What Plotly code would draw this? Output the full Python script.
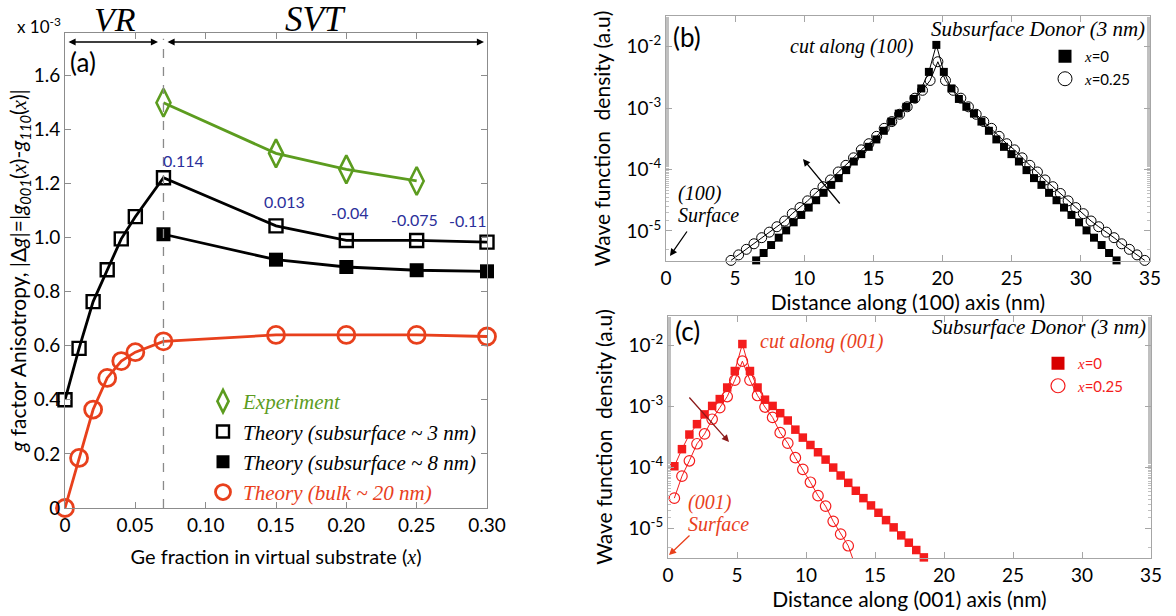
import plotly.graph_objects as go

# ---------------- Panel (a) data ----------------
ge_sub3 = [0, 0.01, 0.02, 0.03, 0.04, 0.05, 0.07, 0.15, 0.20, 0.25, 0.30]
aniso_sub3 = [0.40, 0.59, 0.763, 0.881, 0.995, 1.077, 1.221, 1.043, 0.989, 0.989, 0.983]
ge_sub8 = [0.07, 0.15, 0.20, 0.25, 0.30]
aniso_sub8 = [1.012, 0.918, 0.891, 0.879, 0.875]
ge_bulk = [0, 0.01, 0.02, 0.03, 0.04, 0.05, 0.07, 0.15, 0.20, 0.25, 0.30]
aniso_bulk = [0.0, 0.185, 0.364, 0.481, 0.543, 0.576, 0.616, 0.640, 0.640, 0.640, 0.634]
ge_exp = [0.07, 0.15, 0.20, 0.25]
aniso_exp = [1.498, 1.311, 1.252, 1.209]
strain_labels = ["0.114", "0.013", "-0.04", "-0.075", "-0.11"]
strain_label_at = [0.07, 0.15, 0.20, 0.25, 0.30]
a_xticks = [0, 0.05, 0.10, 0.15, 0.20, 0.25, 0.30]
a_xticktext = ["0", "0.05", "0.10", "0.15", "0.20", "0.25", "0.30"]
a_yticks = [0, 0.2, 0.4, 0.6, 0.8, 1.0, 1.2, 1.4, 1.6]
a_yticktext = ["0", "0.2", "0.4", "0.6", "0.8", "1.0", "1.2", "1.4", "1.6"]

# ---------------- Panel (b) data: cut along (100) ----------------
b_x0_pos = [6.52, 7.06, 7.60, 8.15, 8.69, 9.23, 9.78, 10.32, 10.86, 11.40, 11.95, 12.49,
            13.03, 13.58, 14.12, 14.66, 15.21, 15.75, 16.29, 16.83, 17.38, 17.92, 18.46,
            19.01, 19.55, 20.09, 20.64, 21.18, 21.72, 22.27, 22.81, 23.35, 23.89, 24.44,
            24.98, 25.52, 26.07, 26.61, 27.15, 27.70, 28.24, 28.78, 29.32, 29.87, 30.41,
            30.95, 31.50, 32.04, 32.58]
b_x0_dens = [3.31e-6, 4.37e-6, 5.89e-6, 7.76e-6, 1.02e-5, 1.38e-5, 1.82e-5, 2.40e-5,
             3.16e-5, 4.17e-5, 5.62e-5, 7.24e-5, 9.77e-5, 1.35e-4, 1.78e-4, 2.34e-4,
             3.09e-4, 4.27e-4, 6.03e-4, 8.13e-4, 1.05e-3, 1.41e-3, 2.09e-3, 3.89e-3,
             1.07e-2,
             3.89e-3, 2.09e-3, 1.41e-3, 1.05e-3, 8.13e-4, 6.03e-4, 4.27e-4, 3.09e-4,
             2.34e-4, 1.78e-4, 1.35e-4, 9.77e-5, 7.24e-5, 5.62e-5, 4.17e-5, 3.16e-5,
             2.40e-5, 1.82e-5, 1.38e-5, 1.02e-5, 7.76e-6, 5.89e-6, 4.37e-6, 3.31e-6]
b_x25_pos = [4.70, 5.25, 5.81, 6.36, 6.92, 7.47, 8.02, 8.58, 9.13, 9.69, 10.24, 10.79,
             11.35, 11.90, 12.46, 13.01, 13.56, 14.12, 14.67, 15.23, 15.78, 16.33, 16.89,
             17.44, 18.00, 18.55, 19.10, 19.66, 20.21, 20.77, 21.32, 21.87, 22.43, 22.98,
             23.54, 24.09, 24.64, 25.20, 25.75, 26.31, 26.86, 27.41, 27.97, 28.52, 29.08,
             29.63, 30.18, 30.74, 31.29, 31.85, 32.40, 32.95, 33.51, 34.06, 34.62]
b_x25_dens = [3.31e-6, 4.07e-6, 5.01e-6, 6.17e-6, 7.76e-6, 9.55e-6, 1.17e-5, 1.45e-5,
              1.91e-5, 2.40e-5, 3.09e-5, 4.07e-5, 5.25e-5, 6.76e-5, 9.12e-5, 1.17e-4,
              1.55e-4, 2.09e-4, 2.63e-4, 3.47e-4, 4.68e-4, 6.03e-4, 7.94e-4, 1.05e-3,
              1.45e-3, 1.95e-3, 2.82e-3,
              5.69e-3,
              2.82e-3, 1.95e-3, 1.45e-3, 1.05e-3, 7.94e-4, 6.03e-4, 4.68e-4, 3.47e-4,
              2.63e-4, 2.09e-4, 1.55e-4, 1.17e-4, 9.12e-5, 6.76e-5, 5.25e-5, 4.07e-5,
              3.09e-5, 2.40e-5, 1.91e-5, 1.45e-5, 1.17e-5, 9.55e-6, 7.76e-6, 6.17e-6,
              5.01e-6, 4.07e-6, 3.31e-6]

# ---------------- Panel (c) data: cut along (001) ----------------
c_x0_pos = [0.46, 1.01, 1.55, 2.10, 2.65, 3.20, 3.75, 4.29, 4.84, 5.39, 5.94, 6.49,
            7.03, 7.58, 8.13, 8.68, 9.23, 9.77, 10.32, 10.87, 11.42, 11.97, 12.51, 13.06,
            13.61, 14.16, 14.71, 15.25, 15.80, 16.35, 16.90, 17.45, 17.99, 18.54]
c_x0_dens = [1.05e-4, 2.00e-4, 3.47e-4, 5.13e-4, 7.41e-4, 1.02e-3, 1.32e-3, 2.04e-3,
             3.80e-3, 1.05e-2, 3.80e-3, 2.04e-3, 1.29e-3, 1.02e-3, 7.76e-4, 5.89e-4,
             4.17e-4, 3.09e-4, 2.34e-4, 1.78e-4, 1.35e-4, 1.00e-4, 7.41e-5, 5.62e-5,
             4.17e-5, 3.16e-5, 2.40e-5, 1.82e-5, 1.38e-5, 1.05e-5, 7.76e-6, 5.89e-6,
             4.47e-6, 3.39e-6]
c_x25_pos = [0.46, 1.01, 1.55, 2.10, 2.65, 3.20, 3.75, 4.29, 4.84, 5.39, 5.94, 6.49,
             7.03, 7.58, 8.13, 8.68, 9.23, 9.77, 10.32, 10.87, 11.42, 11.97, 12.51, 13.06,
             13.61]
c_x25_dens = [3.16e-5, 7.24e-5, 1.29e-4, 2.45e-4, 3.55e-4, 6.17e-4, 9.55e-4, 1.45e-3,
              2.69e-3, 5.50e-3, 2.69e-3, 1.51e-3, 9.77e-4, 6.61e-4, 3.72e-4, 2.51e-4,
              1.45e-4, 9.33e-5, 5.75e-5, 3.47e-5, 2.34e-5, 1.32e-5, 8.13e-6, 5.25e-6,
              2.34e-6]
bc_xticks = [0, 5, 10, 15, 20, 25, 30, 35]
bc_yticks = [1e-5, 1e-4, 1e-3, 1e-2]
bc_yticktext = ["10<sup>-5</sup>", "10<sup>-4</sup>", "10<sup>-3</sup>", "10<sup>-2</sup>"]

# ---------------- styling ----------------
W, H = 1176, 616
GREEN = "#5c9c1f"
RED_A = "#e8401c"
BLUE = "#2b2f9a"
RED_C = "#f41c1c"
DARKRED = "#8b1a1a"
SANS = "Lato"
SERIF = "Liberation Serif"
FRAME = "#8c8c8c"
FRAME_BC = "#a6a6a6"


def px(x):
    return x / W


def py(y):
    return 1 - y / H


fig = go.Figure()

# Panel (a) curves
fig.add_trace(go.Scatter(x=ge_exp, y=aniso_exp, mode="lines+markers", xaxis="x", yaxis="y",
                         line=dict(color=GREEN, width=2.8),
                         marker=dict(symbol="diamond-tall-open", size=20, color=GREEN,
                                     line=dict(width=2.6, color=GREEN)),
                         showlegend=False, cliponaxis=False))
fig.add_trace(go.Scatter(x=ge_sub3, y=aniso_sub3, mode="lines+markers", xaxis="x", yaxis="y",
                         line=dict(color="black", width=2.8),
                         marker=dict(symbol="square-open", size=13, color="black",
                                     line=dict(width=2.4, color="black")),
                         showlegend=False, cliponaxis=False))
fig.add_trace(go.Scatter(x=ge_sub8, y=aniso_sub8, mode="lines+markers", xaxis="x", yaxis="y",
                         line=dict(color="black", width=2.8),
                         marker=dict(symbol="square", size=14, color="black"),
                         showlegend=False, cliponaxis=False))
fig.add_trace(go.Scatter(x=ge_bulk, y=aniso_bulk, mode="lines+markers", xaxis="x", yaxis="y",
                         line=dict(color=RED_A, width=2.8),
                         marker=dict(symbol="circle-open", size=17, color=RED_A,
                                     line=dict(width=2.8, color=RED_A)),
                         showlegend=False, cliponaxis=False))

# Panel (a) legend (markers only)
leg_a = [
    (f"<span style='color:{GREEN}'><i>Experiment</i></span>",
     dict(symbol="diamond-tall-open", size=16, color=GREEN, line=dict(width=2.6, color=GREEN))),
    ("<i>Theory (subsurface ~ 3 nm)</i>",
     dict(symbol="square-open", size=12, color="black", line=dict(width=2.4, color="black"))),
    ("<i>Theory (subsurface ~ 8 nm)</i>", dict(symbol="square", size=13, color="black")),
    (f"<span style='color:{RED_A}'><i>Theory (bulk ~ 20 nm)</i></span>",
     dict(symbol="circle-open", size=15, color=RED_A, line=dict(width=2.8, color=RED_A))),
]
for name, mk in leg_a:
    fig.add_trace(go.Scatter(x=[None], y=[None], mode="markers", xaxis="x", yaxis="y",
                             marker=mk, name=name, legend="legend"))

# Panel (b)
fig.add_trace(go.Scatter(x=b_x0_pos, y=b_x0_dens, mode="lines+markers", xaxis="x2", yaxis="y2",
                         line=dict(color="black", width=1),
                         marker=dict(symbol="square", size=8, color="black"),
                         showlegend=False, cliponaxis=False))
fig.add_trace(go.Scatter(x=b_x25_pos, y=b_x25_dens, mode="lines+markers", xaxis="x2", yaxis="y2",
                         line=dict(color="black", width=1),
                         marker=dict(symbol="circle-open", size=10, color="black",
                                     line=dict(width=1, color="black")),
                         showlegend=False, cliponaxis=False))
fig.add_trace(go.Scatter(x=[None], y=[None], mode="markers", xaxis="x2", yaxis="y2",
                         marker=dict(symbol="square", size=13, color="black"),
                         name=f"<span style='font-family:{SERIF}'><i>x</i></span>=0", legend="legend2"))
fig.add_trace(go.Scatter(x=[None], y=[None], mode="markers", xaxis="x2", yaxis="y2",
                         marker=dict(symbol="circle-open", size=14, color="black",
                                     line=dict(width=1, color="black")),
                         name=f"<span style='font-family:{SERIF}'><i>x</i></span>=0.25", legend="legend2"))

# Panel (c)
fig.add_trace(go.Scatter(x=c_x0_pos, y=c_x0_dens, mode="lines+markers", xaxis="x3", yaxis="y3",
                         line=dict(color=RED_C, width=1),
                         marker=dict(symbol="square", size=8.5, color=RED_C),
                         showlegend=False, cliponaxis=False))
fig.add_trace(go.Scatter(x=c_x25_pos, y=c_x25_dens, mode="lines+markers", xaxis="x3", yaxis="y3",
                         line=dict(color=RED_C, width=1),
                         marker=dict(symbol="circle-open", size=10.5, color=RED_C,
                                     line=dict(width=1.2, color=RED_C)),
                         showlegend=False, cliponaxis=True))
fig.add_trace(go.Scatter(x=[None], y=[None], mode="markers", xaxis="x3", yaxis="y3",
                         marker=dict(symbol="square", size=13, color="#d80000"),
                         name=f"<span style='font-family:{SERIF}'><i>x</i></span>=0", legend="legend3"))
fig.add_trace(go.Scatter(x=[None], y=[None], mode="markers", xaxis="x3", yaxis="y3",
                         marker=dict(symbol="circle-open", size=14, color=RED_C,
                                     line=dict(width=1.2, color=RED_C)),
                         name=f"<span style='font-family:{SERIF}'><i>x</i></span>=0.25", legend="legend3"))

axis_common = dict(showline=True, linecolor=FRAME, linewidth=1, mirror="ticks",
                   ticks="inside", ticklen=6, tickcolor=FRAME, showgrid=False, zeroline=False,
                   automargin=False,
                   tickfont=dict(family=SANS, size=19, color="black"))
axis_bc = dict(axis_common, linecolor=FRAME_BC, tickcolor=FRAME_BC)

ytitle_a = ("<i>g</i> factor Anisotropy, |Δ<i>g</i>|=|<i>g</i><sub><i>001</i></sub>"
            f"(<span style='font-family:{SERIF}'><i>x</i></span>)-<i>g</i><sub><i>110</i></sub>"
            f"(<span style='font-family:{SERIF}'><i>x</i></span>)|")

fig.update_layout(
    width=W, height=H, autosize=False,
    margin=dict(l=0, r=0, t=0, b=0, pad=0, autoexpand=False),
    paper_bgcolor="white", plot_bgcolor="white",
    font=dict(family=SANS, color="black"),
    xaxis=dict(axis_common, domain=[px(65), px(487)], range=[0, 0.30],
               tickvals=a_xticks, ticktext=a_xticktext, anchor="y",
               title=dict(text=f"Ge fraction in virtual substrate (<span style='font-family:{SERIF}'><i>x</i></span>)",
                          font=dict(family=SANS, size=20), standoff=15)),
    yaxis=dict(axis_common, domain=[py(508), py(33)], range=[0, 1.756],
               tickvals=a_yticks, ticktext=a_yticktext, anchor="x",
               title=dict(text=ytitle_a, font=dict(family=SANS, size=21), standoff=0)),
    xaxis2=dict(axis_bc, domain=[px(666), px(1150)], range=[0, 35], tickvals=bc_xticks,
                anchor="y2",
                title=dict(text="Distance along (100) axis (nm)", font=dict(family=SANS, size=21), standoff=0)),
    yaxis2=dict(axis_bc, type="log", domain=[py(261), py(16)], range=[-5.49, -1.50],
                tickvals=bc_yticks, ticktext=bc_yticktext, anchor="x2",
                minor=dict(ticks="inside", ticklen=3, tickcolor="#c0c0c0", showgrid=False),
                title=dict(text="Wave function  density (a.u)", font=dict(family=SANS, size=21), standoff=10)),
    xaxis3=dict(axis_bc, domain=[px(668), px(1151)], range=[0, 35], tickvals=bc_xticks,
                anchor="y3",
                title=dict(text="Distance along (001) axis (nm)", font=dict(family=SANS, size=21), standoff=0)),
    yaxis3=dict(axis_bc, type="log", domain=[py(558), py(316)], range=[-5.48, -1.52],
                tickvals=bc_yticks, ticktext=bc_yticktext, anchor="x3",
                minor=dict(ticks="inside", ticklen=3, tickcolor="#c0c0c0", showgrid=False),
                title=dict(text="Wave function  density (a.u)", font=dict(family=SANS, size=21), standoff=10)),
    legend=dict(x=px(203), y=py(381), xanchor="left", yanchor="top", bgcolor="rgba(0,0,0,0)",
                font=dict(family=SERIF, size=21, color="black"), itemsizing="trace",
                tracegroupgap=0),
    legend2=dict(x=px(1045), y=py(40), xanchor="left", yanchor="top", bgcolor="rgba(0,0,0,0)",
                 font=dict(family=SANS, size=15, color="black"), itemsizing="trace"),
    legend3=dict(x=px(1038), y=py(347), xanchor="left", yanchor="top", bgcolor="rgba(0,0,0,0)",
                 font=dict(family=SANS, size=15, color=RED_C), itemsizing="trace"),
)


def label(text, x, y, size, color="black", family=SERIF, xanchor="center"):
    return dict(text=text, x=px(x), y=py(y), xref="paper", yref="paper", xanchor=xanchor,
                yanchor="middle", showarrow=False, font=dict(family=family, size=size, color=color))


def arrow(hx, hy, tx, ty, color="black", both=False):
    return dict(x=px(hx), y=py(hy), ax=tx - hx, ay=ty - hy, xref="paper", yref="paper",
                text="", showarrow=True, arrowhead=2, arrowsize=1.1, arrowwidth=1.3,
                arrowcolor=color, arrowside="end+start" if both else "end")


ann = []
# Panel (a) texts
ann.append(label("<i>VR</i>", 115, 19, 34))
ann.append(label("<i>SVT</i>", 315, 19, 35))
ann.append(label("x 10<sup>-3</sup>", 63, 25, 17, family=SANS, xanchor="right"))
ann.append(label("(a)", 68, 62, 26, family=SANS, xanchor="left"))
ann.append(arrow(158, 42, 67, 42, both=True))
ann.append(arrow(484, 42, 166, 42, both=True))
# strain labels above the subsurface-3nm markers
shifts = [(20, 17), (8, 24), (4, 28), (-2, 21), (-19, 22)]
for lab, xa, (dx, dy) in zip(strain_labels, strain_label_at, shifts):
    yv = aniso_sub3[ge_sub3.index(xa)]
    ann.append(dict(text=lab, x=xa, y=yv, xref="x", yref="y", xshift=dx, yshift=dy,
                    xanchor="center", yanchor="middle",
                    showarrow=False, font=dict(family=SANS, size=16, color=BLUE)))

# Panel (b) texts
ann.append(label("(b)", 671, 37, 26, family=SANS, xanchor="left"))
ann.append(label("<i>cut along (100)</i>", 852, 46, 20))
ann.append(label("<i>Subsurface Donor (3 nm)</i>", 1147, 29, 21, xanchor="right"))
ann.append(label("<i>(100)</i>", 676, 193, 20, xanchor="left"))
ann.append(label("<i>Surface</i>", 676, 215, 20, xanchor="left"))
ann.append(arrow(670, 256, 688, 230))
ann.append(arrow(803, 159, 841, 205))

# Panel (c) texts
ann.append(label("(c)", 673, 331, 26, family=SANS, xanchor="left"))
ann.append(label("<i>cut along (001)</i>", 822, 341, 20, color=RED_A))
ann.append(label("<i>Subsurface Donor (3 nm)</i>", 1148, 327, 21, xanchor="right"))
ann.append(label("<i>(001)</i>", 686, 502, 20, color=RED_A, xanchor="left"))
ann.append(label("<i>Surface</i>", 686, 524, 20, color=RED_A, xanchor="left"))
ann.append(arrow(669, 555, 691, 534, color=RED_A))
ann.append(arrow(729, 442, 688, 396, color=DARKRED))

fig.update_layout(annotations=ann)

# dashed separator between VR and SVT regimes
fig.add_shape(type="line", x0=0.07, x1=0.07, y0=0, y1=1.735, xref="x", yref="y",
              line=dict(color="#8a8a8a", width=1.3, dash="dash"))

# the page's default body margin would shift the figure by 8 px; remove it
fig.write_html("out.html", config={"displayModeBar": False},
               post_script="document.body.style.margin='0px';")
